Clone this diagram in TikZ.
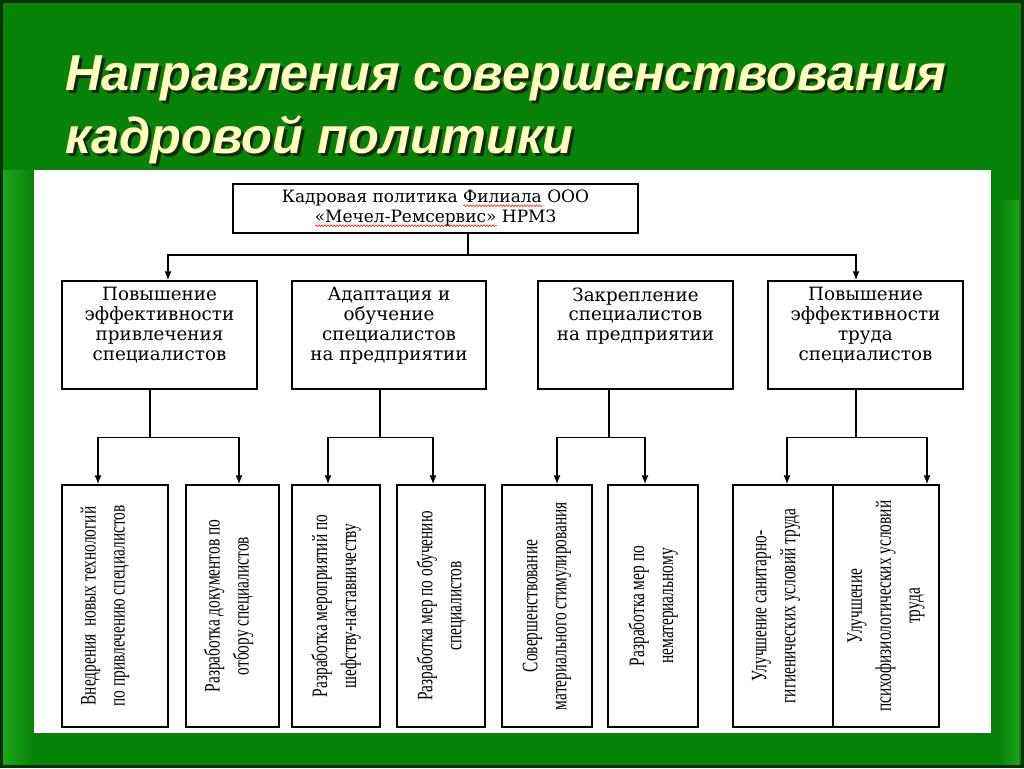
\documentclass[tikz,border=0pt]{standalone}
\usepackage{fontspec}
\setmainfont{Liberation Serif}
\newfontfamily\titlefont{Liberation Sans}
\newfontfamily\boxfont{DejaVu Serif}
\newfontfamily\narrowfont[FakeStretch=0.7]{Liberation Serif}
\usetikzlibrary{arrows.meta,decorations.pathmorphing}
\newlength\wavelen
\newcommand\redwave[1]{\settowidth\wavelen{#1}\rlap{\tikz[baseline=0pt]\draw[red, line width=0.5pt, decorate, decoration={snake, amplitude=0.9pt, segment length=3pt}] (0pt,-3pt) -- (\wavelen,-3pt);}#1}
\definecolor{bggreen}{RGB}{8,130,8}
\definecolor{lightgreen}{RGB}{30,165,30}
\definecolor{darkframe}{RGB}{0,50,0}
\definecolor{titleyellow}{RGB}{255,255,190}
\definecolor{titleshadow}{RGB}{20,40,10}
\newcommand\shadowtext[1]{\rlap{\hspace{3pt}\raisebox{-3pt}{\textcolor{titleshadow}{#1}}}\textcolor{titleyellow}{#1}}
\tikzset{
  box/.style={draw=black, line width=1.4pt, fill=white, inner sep=0pt},
  conn/.style={draw=black, line width=1.4pt},
  arr/.style={conn, -{Latex[length=9pt,width=7pt]}},
  titletext/.style={anchor=base west, inner sep=0pt, font=\titlefont\bfseries\itshape\fontsize{50.5}{50.5}\selectfont},
  toptext/.style={align=center, inner sep=0pt, font=\boxfont\fontsize{17}{20}\selectfont},
  midtext/.style={align=center, anchor=north, inner sep=0pt, font=\boxfont\fontsize{18.3}{19.8}\selectfont},
  vtext/.style={rotate=90, align=center, inner sep=0pt, font=\narrowfont\fontsize{22}{29}\selectfont}
}
\begin{document}
\begin{tikzpicture}[x=1pt,y=-1pt]
\useasboundingbox (0,0) rectangle (1024,768);
% background
\fill[bggreen] (0,0) rectangle (1024,768);
\shade[left color=lightgreen, right color=bggreen] (3,170) rectangle (34,765);
\shade[left color=bggreen, right color=lightgreen] (1000,200) rectangle (1019,765);
\draw[darkframe, line width=3pt] (1.5,1.5) rectangle (1022.5,766.5);
\fill[white] (34,170) rectangle (991,733);
% title
\node[titletext] (title1) at (65,90) {\shadowtext{Направления совершенствования}};
\node[titletext] (title2) at (65,153) {\shadowtext{кадровой политики}};
% top box
\node[box, minimum width=405pt, minimum height=49pt] (top) at (435.5,208.5) {};
\node[toptext] (toptxt) at (top.center) {Кадровая политика \redwave{Филиала} ООО\\\redwave{«Мечел-Ремсервис»} НРМЗ};
% level 2
\node[box, minimum width=195pt, minimum height=108pt] (b1) at (159.5,335) {};
\node[box, minimum width=194pt, minimum height=108pt] (b2) at (389,335) {};
\node[box, minimum width=195pt, minimum height=108pt] (b3) at (635.5,335) {};
\node[box, minimum width=195pt, minimum height=108pt] (b4) at (865.5,335) {};
\node[midtext] (t1) at ([yshift=-7pt]b1.north) {Повышение\\эффективности\\привлечения\\специалистов};
\node[midtext] (t2) at ([yshift=-7pt]b2.north) {Адаптация и\\обучение\\специалистов\\на предприятии};
\node[midtext] (t3) at ([yshift=-7pt]b3.north) {Закрепление\\специалистов\\на предприятии};
\node[midtext] (t4) at ([yshift=-7pt]b4.north) {Повышение\\эффективности\\труда\\специалистов};
% level 3
\node[box, minimum width=106pt, minimum height=242pt] (c1) at (115,606) {};
\node[box, minimum width=93pt, minimum height=242pt] (c2) at (232.5,606) {};
\node[box, minimum width=88pt, minimum height=242pt] (c3) at (336,606) {};
\node[box, minimum width=88pt, minimum height=242pt] (c4) at (441,606) {};
\node[box, minimum width=90pt, minimum height=242pt] (c5) at (547,606) {};
\node[box, minimum width=90pt, minimum height=242pt] (c6) at (653,606) {};
\node[box, minimum width=100pt, minimum height=242pt] (c7) at (783,606) {};
\node[box, minimum width=106pt, minimum height=242pt] (c8) at (886,606) {};
\node[vtext] (r1) at ([xshift=-10pt]c1.center) {Внедрения\ \ новых технологий\\по привлечению специалистов};
\node[vtext] (r2) at ([xshift=-4pt]c2.center) {Разработка документов по\\отбору специалистов};
\node[vtext] (r3) at (c3.center) {Разработка мероприятий по\\шефству-наставничеству};
\node[vtext] (r4) at (c4.center) {Разработка мер по обучению\\специалистов};
\node[vtext] (r5) at (c5.center) {Совершенствование\\материального стимулирования};
\node[vtext] (r6) at (c6.center) {Разработка мер по\\нематериальному};
\node[vtext] (r7) at ([xshift=-7pt]c7.center) {Улучшение санитарно-\\гигиенических условий труда};
\node[vtext] (r8) at (c8.center) {Улучшение\\психофизиологических условий\\труда};
% connectors top
\coordinate (hub) at (468,255);
\draw[conn] ([xshift=32.5pt]top.south) -- (hub);
\draw[arr] (hub) -| ([xshift=8.5pt]b1.north);
\draw[arr] (hub) -| ([xshift=-9.5pt]b4.north);
% connectors level 2 -> 3
\draw[conn] ([xshift=-9.5pt]b1.south) -- ++(0,48) coordinate (j1);
\draw[arr] (j1) -| ([xshift=-17pt]c1.north);
\draw[arr] (j1) -| ([xshift=6.5pt]c2.north);
\draw[conn] ([xshift=-9pt]b2.south) -- ++(0,48) coordinate (j2);
\draw[arr] (j2) -| ([xshift=-8pt]c3.north);
\draw[arr] (j2) -| ([xshift=-8pt]c4.north);
\draw[conn] ([xshift=-26.5pt]b3.south) -- ++(0,48) coordinate (j3);
\draw[arr] (j3) -| ([xshift=10pt]c5.north);
\draw[arr] (j3) -| ([xshift=-8pt]c6.north);
\draw[conn] ([xshift=-9.5pt]b4.south) -- ++(0,48) coordinate (j4);
\draw[arr] (j4) -| ([xshift=4pt]c7.north);
\draw[arr] (j4) -| ([xshift=41pt]c8.north);
\end{tikzpicture}
\end{document}
